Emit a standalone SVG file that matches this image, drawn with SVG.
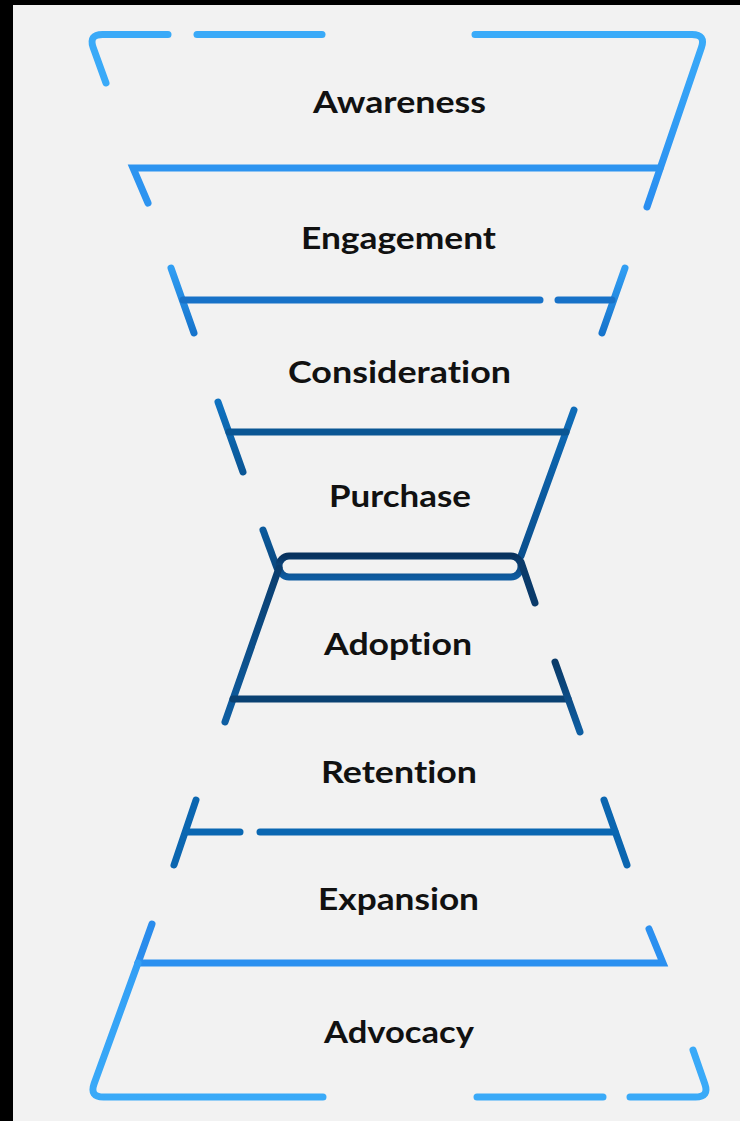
<svg xmlns="http://www.w3.org/2000/svg" width="740" height="1121" viewBox="0 0 740 1121">
  <defs>
    <style>
      .s { fill: none; stroke-width: 7; stroke-linecap: round; stroke-linejoin: miter; stroke-miterlimit: 10; }
      .t { font-family: "Lato", "Open Sans", "Liberation Sans", sans-serif; font-weight: 700; font-size: 31px; fill: #111111; text-anchor: middle; font-variant-ligatures: none; font-feature-settings: "liga" 0, "clig" 0; }
    </style>
    <linearGradient id="gAw" gradientUnits="userSpaceOnUse" x1="0" y1="35" x2="0" y2="207">
      <stop offset="0" stop-color="#3aabf9"/><stop offset="1" stop-color="#2a8ef0"/>
    </linearGradient>
    <linearGradient id="gEn" gradientUnits="userSpaceOnUse" x1="0" y1="268" x2="0" y2="333">
      <stop offset="0" stop-color="#319ef3"/><stop offset="1" stop-color="#1674cc"/>
    </linearGradient>
    <linearGradient id="gCoL" gradientUnits="userSpaceOnUse" x1="0" y1="402" x2="0" y2="472">
      <stop offset="0" stop-color="#0f72c0"/><stop offset="1" stop-color="#0a5696"/>
    </linearGradient>
    <linearGradient id="gCoR" gradientUnits="userSpaceOnUse" x1="0" y1="410" x2="0" y2="558">
      <stop offset="0" stop-color="#0e6cb8"/><stop offset="1" stop-color="#0a4f8e"/>
    </linearGradient>
    <linearGradient id="gPuL" gradientUnits="userSpaceOnUse" x1="0" y1="530" x2="0" y2="568">
      <stop offset="0" stop-color="#0b5a9c"/><stop offset="1" stop-color="#0a4880"/>
    </linearGradient>
    <linearGradient id="gAdL" gradientUnits="userSpaceOnUse" x1="0" y1="568" x2="0" y2="722">
      <stop offset="0" stop-color="#0a3d6e"/><stop offset="1" stop-color="#0e5ea2"/>
    </linearGradient>
    <linearGradient id="gAdR" gradientUnits="userSpaceOnUse" x1="0" y1="662" x2="0" y2="732">
      <stop offset="0" stop-color="#0a3a68"/><stop offset="1" stop-color="#0e5ea2"/>
    </linearGradient>
    <linearGradient id="gRect" x1="0" y1="0" x2="0" y2="1">
      <stop offset="0" stop-color="#08325e"/><stop offset="1" stop-color="#0e5ba0"/>
    </linearGradient>
    <linearGradient id="gAdv" gradientUnits="userSpaceOnUse" x1="0" y1="963" x2="0" y2="1097">
      <stop offset="0" stop-color="#339ff5"/><stop offset="1" stop-color="#3aaaf8"/>
    </linearGradient>
  </defs>

  <rect x="0" y="0" width="740" height="1121" fill="#000000"/>
  <rect x="13" y="5" width="727" height="1116" fill="#f2f2f2"/>

  <g id="awareness">
    <path class="s" stroke="#3aaaf8" d="M168 34.5 H102.5 Q88.5 34.5 93.2 47.7 L106 83"/>
    <path class="s" stroke="#3aaaf8" d="M197 34.5 H322"/>
    <path class="s" stroke="url(#gAw)" d="M475 34.5 H692 Q706 34.5 701.4 47.7 L647 207"/>
    <path class="s" stroke="#2d94f0" d="M660 168 H133 L148 203"/>
    <text class="t" x="399.5" y="113" textLength="173" lengthAdjust="spacingAndGlyphs">Awareness</text>
  </g>

  <g id="engagement">
    <path class="s" stroke="url(#gEn)" d="M171 268 L194 333"/>
    <path class="s" stroke="url(#gEn)" d="M625 268 L602 333"/>
    <path class="s" stroke="#1872c8" d="M183 300 H540"/>
    <path class="s" stroke="#1872c8" d="M558 300 H612"/>
    <text class="t" x="398.5" y="249" textLength="195" lengthAdjust="spacingAndGlyphs">Engagement</text>
  </g>

  <g id="consideration">
    <path class="s" stroke="url(#gCoL)" d="M218 402 L243 472"/>
    <path class="s" stroke="url(#gCoR)" d="M574 410 L521 556"/>
    <path class="s" stroke="#0a5694" d="M229 432 H566"/>
    <text class="t" x="399.5" y="383" textLength="223" lengthAdjust="spacingAndGlyphs">Consideration</text>
  </g>

  <g id="purchase">
    <path class="s" stroke="url(#gPuL)" d="M263 530 L277 568"/>
    <rect class="s" stroke="url(#gRect)" x="279" y="556" width="242" height="21" rx="10" ry="10"/>
    <path class="s" stroke="#0a3a6a" d="M521 562 L535 603"/>
    <text class="t" x="400" y="507" textLength="142" lengthAdjust="spacingAndGlyphs">Purchase</text>
  </g>

  <g id="adoption">
    <path class="s" stroke="url(#gAdL)" d="M279 568 L225 722"/>
    <path class="s" stroke="#0a4172" d="M233 699 H568"/>
    <path class="s" stroke="url(#gAdR)" d="M555 662 L580 732"/>
    <text class="t" x="398" y="655" textLength="148" lengthAdjust="spacingAndGlyphs">Adoption</text>
  </g>

  <g id="retention">
    <path class="s" stroke="#0b66b0" d="M196 800 L174 865"/>
    <path class="s" stroke="#0b66b0" d="M604 800 L627 865"/>
    <path class="s" stroke="#0a67b2" d="M186 832 H240"/>
    <path class="s" stroke="#0a67b2" d="M260 832 H615"/>
    <text class="t" x="399" y="783" textLength="156" lengthAdjust="spacingAndGlyphs">Retention</text>
  </g>

  <g id="expansion">
    <path class="s" stroke="#2a8cec" d="M152 924 L138 963"/>
    <path class="s" stroke="#2b90f0" d="M138 963 H663 L649 929"/>
    <text class="t" x="398.5" y="910" textLength="161" lengthAdjust="spacingAndGlyphs">Expansion</text>
  </g>

  <g id="advocacy">
    <path class="s" stroke="url(#gAdv)" d="M138 963 L94.1 1083.8 Q89.4 1097 103.4 1097 H323"/>
    <path class="s" stroke="#3aaaf8" d="M477 1097 H603"/>
    <path class="s" stroke="#3aaaf8" d="M630 1097 H695.5 Q709.5 1097 704.8 1083.8 L693 1050"/>
    <text class="t" x="399" y="1043" textLength="150" lengthAdjust="spacingAndGlyphs">Advocacy</text>
  </g>
</svg>
